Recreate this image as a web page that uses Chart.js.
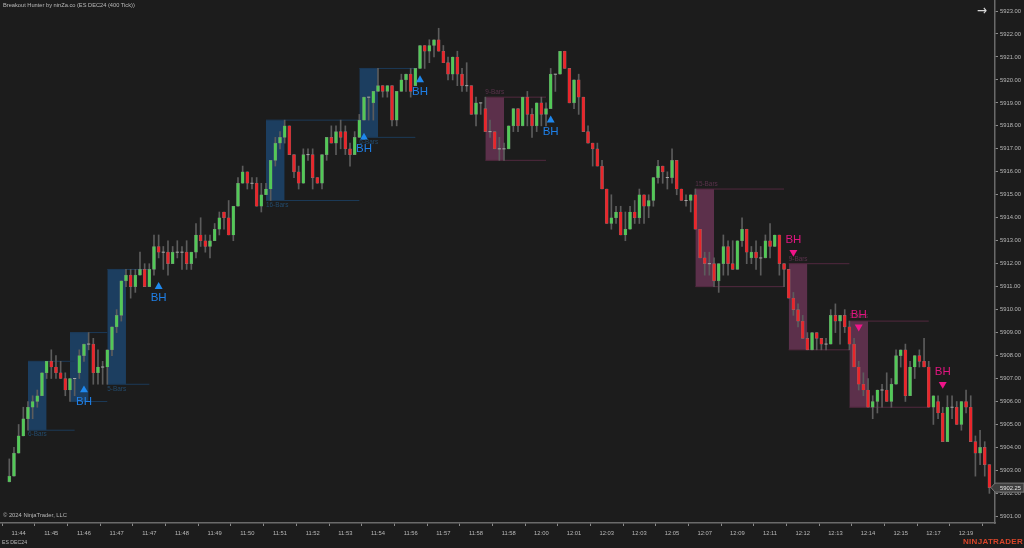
<!DOCTYPE html>
<html>
<head>
<meta charset="utf-8">
<title>Breakout Hunter</title>
<script src="https://cdn.jsdelivr.net/npm/chart.js@4/dist/chart.umd.js"></script>
<style>
    html, body { margin: 0; padding: 0; background: #1c1c1c; overflow: hidden; }
    #wrap { position: relative; width: 1024px; height: 548px; font-family: "Liberation Sans", Arial, sans-serif; }
    #chart { display: block; }
    .lbl { position: absolute; white-space: nowrap; color: #b9b9b9; line-height: 1; }
</style>
</head>
<body>
<div id="wrap">
    <canvas id="chart" width="1024" height="548"></canvas>
    <div class="lbl" style="left:3px;top:3px;font-size:5.7px;">Breakout Hunter by ninZa.co (ES DEC24 (400 Tick))</div>
    <div class="lbl" style="left:977px;top:3px;font-size:14px;color:#d8d8d8;font-family:'DejaVu Sans';transform:scaleX(0.86);transform-origin:left;">→</div>
    <div class="lbl" style="left:3px;top:513px;font-size:5.8px;">© 2024 NinjaTrader, LLC</div>
    <div class="lbl" style="left:2px;top:540px;font-size:5.2px;">ES DEC24</div>
    <div class="lbl" style="left:963px;top:538px;font-size:8px;font-weight:bold;color:#d9452a;letter-spacing:0.3px;">NINJATRADER</div>
</div>
<script>
// Candles, one entry per 400 tick bar
var opens = [
    5902.5, 5902.75, 5903.75, 5904.5, 5905.25, 5905.75, 5906, 5906.25, 5907.25, 5907.75,
    5907.5, 5907.25, 5907, 5906.5, 5907, 5907.25, 5908, 5908.5, 5908.5, 5907.25,
    5907.5, 5907.5, 5908.25, 5909.25, 5909.75, 5911.25, 5911.5, 5911, 5911.5, 5911.75,
    5911, 5911.75, 5912.75, 5912.5, 5912.5, 5912, 5912.5, 5912.5, 5912.5, 5912,
    5912.5, 5913.25, 5913, 5912.75, 5913, 5913.5, 5914.25, 5914, 5913.25, 5914.5,
    5915.5, 5916, 5915.5, 5915.5, 5914.5, 5915, 5915.25, 5916.5, 5917.25, 5917.5,
    5918, 5916.75, 5916, 5915.5, 5916.75, 5916.75, 5915.75, 5915.5, 5916.75, 5917.5,
    5917.25, 5917.75, 5917.75, 5917, 5916.75, 5917.5, 5918.25, 5919.25, 5919, 5919.5,
    5919.75, 5919.5, 5919.75, 5918.25, 5919.5, 5920, 5920.25, 5919.75, 5920.5, 5921.5,
    5921.25, 5921.5, 5921.75, 5921.25, 5920.75, 5920.25, 5921, 5920.25, 5919.75, 5919.75,
    5918.5, 5919, 5918.75, 5917.75, 5917.75, 5917, 5917, 5917, 5918, 5918.75,
    5918, 5919.25, 5918.5, 5918, 5919, 5918.5, 5918.75, 5920.25, 5920.25, 5921.25,
    5920.5, 5919, 5920, 5919.25, 5917.75, 5917.25, 5917, 5916.25, 5915.25, 5913.75,
    5914, 5914.25, 5913.25, 5913.5, 5914.25, 5914, 5915, 5914.5, 5914.75, 5915.75,
    5916.25, 5915.75, 5915.75, 5916.5, 5915.25, 5914.75, 5914.75, 5915, 5913.5, 5912.25,
    5912, 5912, 5911.25, 5912, 5912.75, 5912, 5911.75, 5913, 5913.5, 5912.25,
    5912.5, 5912.25, 5912.25, 5913, 5912.75, 5913.25, 5912, 5911.75, 5910.5, 5910,
    5909.5, 5908.75, 5908.25, 5909, 5908.75, 5908.5, 5908.5, 5909.75, 5909.5, 5909.75,
    5909.25, 5908.5, 5907.5, 5906.75, 5906.5, 5905.75, 5906, 5906.5, 5906.5, 5906,
    5906.75, 5908, 5908.25, 5906.25, 5907.5, 5908, 5907.75, 5907.5, 5905.75, 5906,
    5905.5, 5904.25, 5905.75, 5905.75, 5905, 5906, 5905.75, 5904.25, 5903.75, 5904,
    5903.25
];
var highs = [
    5903.5, 5904, 5905, 5905.75, 5906, 5906.25, 5906.5, 5907.25, 5907.75, 5908.25,
    5908, 5907.75, 5907.25, 5907, 5907, 5908.25, 5908.5, 5909, 5908.75, 5908.25,
    5907.75, 5908.25, 5909.25, 5910, 5911.25, 5911.75, 5911.75, 5911.75, 5912.5, 5912,
    5912, 5913.25, 5913.25, 5912.75, 5913, 5912.75, 5913, 5912.75, 5913, 5912.5,
    5913.75, 5914, 5913.25, 5913.25, 5913.75, 5914.25, 5914.25, 5914.75, 5914.5, 5915.75,
    5916.25, 5916, 5915.75, 5915.75, 5915.5, 5915.5, 5916.5, 5917.5, 5917.75, 5918.25,
    5918, 5916.75, 5916.25, 5917, 5917, 5917, 5915.75, 5916.75, 5917.5, 5918,
    5918, 5918.25, 5918, 5917.25, 5917.75, 5918.5, 5919.25, 5919.25, 5919.5, 5920.5,
    5919.75, 5919.75, 5919.75, 5919.5, 5920.25, 5920.25, 5920.5, 5920.5, 5921.5, 5921.5,
    5921.75, 5921.75, 5922.25, 5921.5, 5921, 5921, 5921.25, 5920.5, 5920.75, 5919.75,
    5919.25, 5919, 5919.25, 5918.25, 5917.75, 5917.5, 5917.25, 5918, 5918.75, 5918.75,
    5919.25, 5919.5, 5918.75, 5919, 5919.25, 5919, 5920.5, 5920.25, 5921.25, 5921.25,
    5920.5, 5920, 5920.25, 5919.25, 5918, 5917.25, 5917.25, 5916.5, 5915.25, 5915,
    5914.5, 5914.5, 5914.25, 5914.5, 5914.75, 5915.25, 5915, 5915, 5915.75, 5916.5,
    5916.25, 5916, 5917, 5916.5, 5915.25, 5915, 5915, 5915.25, 5913.5, 5912.5,
    5912.5, 5912.25, 5912, 5913.25, 5913, 5913, 5913, 5914, 5913.5, 5912.75,
    5913, 5912.75, 5913.25, 5913.75, 5913.25, 5913.25, 5912, 5911.75, 5910.75, 5910.25,
    5909.75, 5909, 5909, 5909, 5908.75, 5908.75, 5910, 5910.25, 5909.75, 5910,
    5909.5, 5908.75, 5907.75, 5907.25, 5907, 5906.25, 5906.5, 5906.75, 5907.25, 5907,
    5908.25, 5908.25, 5908.5, 5907.75, 5908, 5908.25, 5908.75, 5907.75, 5906.25, 5906.25,
    5905.75, 5906.25, 5906.25, 5906, 5906, 5906.5, 5906.25, 5904.5, 5904.75, 5904.25,
    5903.25
];
var lows = [
    5902.5, 5902.75, 5903.75, 5904.5, 5904.75, 5905.25, 5905.75, 5906.25, 5907, 5907,
    5907, 5907, 5906.25, 5906, 5906.25, 5907, 5907.75, 5908.25, 5906.75, 5906.75,
    5906.75, 5906.75, 5908, 5909, 5909.5, 5911, 5910.5, 5910.75, 5911.5, 5911,
    5911, 5911.5, 5912.25, 5911.75, 5911.5, 5912, 5912.25, 5911.75, 5911.75, 5911.75,
    5912.25, 5912.75, 5912.5, 5912.25, 5913, 5913.25, 5913.5, 5913.25, 5913, 5914.5,
    5915.5, 5915.25, 5915.25, 5914.5, 5914.25, 5915, 5914.75, 5916.25, 5917, 5917.25,
    5916.75, 5915.75, 5915.25, 5915.5, 5916.5, 5915.25, 5915.5, 5915.25, 5916.5, 5917.25,
    5916.75, 5917, 5916.75, 5916.25, 5916.75, 5917.5, 5918.25, 5918.25, 5918.25, 5919.5,
    5919.25, 5919.25, 5918, 5918, 5919.5, 5919.5, 5919.25, 5919.75, 5920.5, 5920.5,
    5920.75, 5921, 5921.25, 5920.75, 5920, 5920, 5919.75, 5919.5, 5919.5, 5918.5,
    5918, 5918.5, 5917.75, 5917.5, 5917, 5916.5, 5916.5, 5917, 5917.75, 5917.75,
    5918, 5918, 5917.5, 5917.75, 5918, 5918, 5918.75, 5919.5, 5920.25, 5920.5,
    5919, 5918.75, 5918.5, 5917.75, 5917.25, 5916.25, 5916.25, 5915.25, 5913.75, 5913.5,
    5913.75, 5913.25, 5913, 5913.5, 5913.75, 5913.75, 5913.75, 5914, 5914.5, 5915.5,
    5915.5, 5915.25, 5915.5, 5915, 5914.75, 5914.5, 5914.25, 5913.5, 5912.25, 5911.5,
    5911.5, 5911, 5910.75, 5911.5, 5911.5, 5911.75, 5911.75, 5912.75, 5912, 5912,
    5911.75, 5911.5, 5912.25, 5912.25, 5912.75, 5911.5, 5911, 5910.5, 5909.75, 5909.25,
    5908.75, 5908.25, 5908.25, 5908.25, 5908.25, 5908.25, 5908.5, 5909, 5908.5, 5909,
    5908.25, 5907.5, 5906.5, 5906.25, 5905.75, 5905.25, 5905.5, 5905.75, 5906, 5905.75,
    5906.75, 5907.5, 5906, 5906.25, 5907, 5907.5, 5907.5, 5905.75, 5905, 5905.25,
    5904.25, 5904.25, 5905.25, 5905, 5904.75, 5905.5, 5904.25, 5902.75, 5903.25, 5902.75,
    5902
];
var closes = [
    5902.75, 5903.75, 5904.5, 5905.25, 5905.75, 5906, 5906.25, 5907.25, 5907.75, 5907.5,
    5907.25, 5907, 5906.5, 5907, 5907, 5908, 5908.5, 5908.5, 5907.25, 5907.5,
    5907.5, 5908.25, 5909.25, 5909.75, 5911.25, 5911.5, 5911, 5911.5, 5911.75, 5911,
    5911.75, 5912.75, 5912.5, 5912.5, 5912, 5912.5, 5912.5, 5912.5, 5912, 5912.5,
    5913.25, 5913, 5912.75, 5913, 5913.5, 5914, 5914, 5913.25, 5914.5, 5915.5,
    5916, 5915.5, 5915.5, 5914.5, 5915, 5915.25, 5916.5, 5917.25, 5917.5, 5918,
    5916.75, 5916, 5915.5, 5916.75, 5916.75, 5915.75, 5915.5, 5916.75, 5917.5, 5917.25,
    5917.75, 5917.5, 5917, 5916.75, 5917.5, 5918.25, 5919.25, 5919.25, 5919.5, 5919.75,
    5919.5, 5919.75, 5918.25, 5919.5, 5920, 5920.25, 5919.5, 5920.5, 5921.5, 5921.25,
    5921.5, 5921.75, 5921.25, 5920.75, 5920.25, 5921, 5920.25, 5919.75, 5919.75, 5918.5,
    5919, 5919, 5917.75, 5917.75, 5917, 5917, 5917, 5918, 5918.75, 5918,
    5919.25, 5918.5, 5918, 5919, 5918.5, 5918.75, 5920.25, 5920.25, 5921.25, 5920.5,
    5919, 5920, 5919.25, 5917.75, 5917.25, 5917, 5916.25, 5915.25, 5913.75, 5914,
    5914.25, 5913.25, 5913.5, 5914.25, 5914, 5915, 5914.5, 5914.75, 5915.75, 5916.25,
    5916, 5915.75, 5916.5, 5915.25, 5914.75, 5914.75, 5915, 5913.5, 5912.25, 5912,
    5912, 5911.25, 5912, 5912.75, 5912, 5911.75, 5913, 5913.5, 5912.5, 5912.5,
    5912.25, 5912.25, 5913, 5912.75, 5913.25, 5912, 5911.75, 5910.5, 5910, 5909.5,
    5908.75, 5908.25, 5909, 5908.75, 5908.5, 5908.5, 5909.75, 5909.5, 5909.75, 5909.25,
    5908.5, 5907.5, 5906.75, 5906.5, 5905.75, 5906, 5906.5, 5906.5, 5906, 5906.75,
    5908, 5908.25, 5906.25, 5907.5, 5908, 5907.75, 5907.5, 5905.75, 5906.25, 5905.5,
    5904.25, 5905.75, 5905.75, 5905, 5906, 5905.75, 5904.25, 5903.75, 5904, 5903.25,
    5902.25
];

// One tick on the time axis every 7 bars, starting at bar 2
var timeLabels = ["11:44", "11:45", "11:46", "11:47", "11:47", "11:48", "11:49", "11:50", "11:51", "11:52",
    "11:53", "11:54", "11:56", "11:57", "11:58", "11:58", "12:00", "12:01", "12:03", "12:03",
    "12:05", "12:07", "12:09", "12:11", "12:12", "12:13", "12:14", "12:15", "12:17", "12:19"];
var lastPrice = 5902.25;

// Breakout zones (bar numbers and prices)
var zoneStart = [4, 13, 21, 55, 75, 102, 147, 167, 180];
var zoneEnd = [8, 17, 25, 59, 79, 106, 151, 171, 184];
var zoneLineEnd = [14, 21, 30, 75, 87, 115, 166, 180, 197];
var zoneTop = [5907.75, 5909, 5911.75, 5918.25, 5920.5, 5919.25, 5915.25, 5912, 5909.5];
var zoneBottom = [5904.75, 5906, 5906.75, 5914.75, 5917.5, 5916.5, 5911, 5908.25, 5905.75];
var zoneUp = [true, true, true, true, true, false, false, false, false];
var zoneNames = ["6-Bars", "", "5-Bars", "16-Bars", "6-Bars", "9-Bars", "15-Bars", "9-Bars", "9-Bars"];

// BH signals
var buyBars = [16, 32, 76, 88, 116];
var buyPrices = [5906.5, 5911, 5917.5, 5920, 5918.25];
var sellBars = [168, 182, 200];
var sellPrices = [5912.5, 5909.25, 5906.75];

var GREEN = "#52c957", RED = "#e8262b", WICK = "#5c5c5c", EDGE = "#787878";
var BLUE_ZONE = "#1c3e60", PINK_ZONE = "#5c304b";
var BLUE_LINE = "#1c3a58", PINK_LINE = "#52293f";
var BLUE_MARK = "#1e88ee", PINK_MARK = "#f0148a";

var datasets = [];

// Zones go at the back, the candles are drawn over them
for (var z = 0; z < zoneStart.length; z++) {
    datasets.push({
        type: "line", order: 30, pointRadius: 0, borderWidth: 0,
        backgroundColor: zoneUp[z] ? BLUE_ZONE : PINK_ZONE,
        fill: { target: { value: zoneBottom[z] } },
        data: [{ x: zoneStart[z], y: zoneTop[z] }, { x: zoneEnd[z], y: zoneTop[z] }]
    });
    [zoneTop[z], zoneBottom[z]].forEach(function(level) {
        datasets.push({
            type: "line", order: 20, pointRadius: 0, borderWidth: 1,
            borderColor: zoneUp[z] ? BLUE_LINE : PINK_LINE,
            data: [{ x: zoneStart[z], y: level }, { x: zoneLineEnd[z], y: level }]
        });
    });
}

// Wicks and bodies as floating bars
datasets.push({
    type: "bar", order: 10, grouped: false, barThickness: 1, backgroundColor: WICK,
    data: highs.map(function(h, i) { return { x: i, y: [lows[i], h] }; })
});
var bodies = closes.map(function(c, i) { return { x: i, y: [opens[i], c] }; }).filter(function(d) { return d.y[0] !== d.y[1]; });
datasets.push({
    type: "bar", order: 9, grouped: false, barThickness: 3, borderWidth: 0.4, borderColor: EDGE, borderSkipped: false,
    backgroundColor: bodies.map(function(d) { return d.y[1] > d.y[0] ? GREEN : RED; }),
    data: bodies
});
datasets.push({
    type: "scatter", order: 8, pointStyle: "line", pointRadius: 1.6, borderWidth: 1, borderColor: "#a8a8a8",
    data: closes.map(function(c, i) { return { x: i, y: c }; }).filter(function(d) { return d.y === opens[d.x]; })
});

// BH triangles
datasets.push({
    type: "scatter", order: 1, pointStyle: "triangle", pointRadius: 4.6, pointBorderWidth: 0, backgroundColor: BLUE_MARK,
    data: buyBars.map(function(b, i) { return { x: b, y: buyPrices[i] }; })
});
datasets.push({
    type: "scatter", order: 1, pointStyle: "triangle", pointRadius: 4.6, pointRotation: 180, pointBorderWidth: 0, backgroundColor: PINK_MARK,
    data: sellBars.map(function(b, i) { return { x: b, y: sellPrices[i] }; })
});

// Zone names, BH texts and the current price tag
var annotations = {
    id: "annotations",
    afterDatasetsDraw: function(chart) {
        var ctx = chart.ctx, xs = chart.scales.x, ys = chart.scales.y;
        ctx.save();
        ctx.textBaseline = "middle";
        ctx.textAlign = "left";
        ctx.font = '6.4px "Liberation Sans"';
        zoneNames.forEach(function(name, z) {
            var y = zoneUp[z] ? ys.getPixelForValue(zoneBottom[z]) + 4.5 : ys.getPixelForValue(zoneTop[z]) - 4.5;
            ctx.fillStyle = zoneUp[z] ? "#234a6b" : "#59324b";
            ctx.fillText(name, xs.getPixelForValue(zoneStart[z]), y);
        });
        ctx.textAlign = "center";
        ctx.font = '11.5px "Liberation Sans"';
        ctx.fillStyle = "#1f7fe6";
        buyBars.forEach(function(b, i) {
            ctx.fillText("BH", xs.getPixelForValue(b), ys.getPixelForValue(buyPrices[i]) + 11.5);
        });
        ctx.fillStyle = "#e0157f";
        sellBars.forEach(function(b, i) {
            ctx.fillText("BH", xs.getPixelForValue(b), ys.getPixelForValue(sellPrices[i]) - 12.5);
        });

        var py = ys.getPixelForValue(lastPrice);
        ctx.beginPath();
        ctx.moveTo(991, py);
        ctx.lineTo(995, py - 4.5);
        ctx.lineTo(1024, py - 4.5);
        ctx.lineTo(1024, py + 4.5);
        ctx.lineTo(995, py + 4.5);
        ctx.closePath();
        ctx.fillStyle = "#3e3e3e";
        ctx.fill();
        ctx.strokeStyle = "#7a7a7a";
        ctx.lineWidth = 1;
        ctx.stroke();
        ctx.fillStyle = "#e4e4e4";
        ctx.textAlign = "left";
        ctx.font = '5.8px "Liberation Sans"';
        ctx.fillText(lastPrice.toFixed(2), 1000, py + 0.5);
        ctx.restore();
    }
};

new Chart(document.getElementById("chart"), {
    data: { datasets: datasets },
    plugins: [annotations],
    options: {
        responsive: false,
        animation: false,
        devicePixelRatio: 1,
        // the plot goes right to the window edge, the triangles may not push it in
        layout: { padding: 0, autoPadding: false },
        plugins: { legend: { display: false }, tooltip: { enabled: false }, title: { display: false } },
        scales: {
            x: {
                type: "linear",
                offset: false,
                min: -1.993,
                max: 211.2,
                afterFit: function(scale) { scale.height = 25; scale.paddingLeft = 0; scale.paddingRight = 0; },
                afterBuildTicks: function(scale) {
                    scale.ticks = timeLabels.map(function(t, i) { return { value: 2 + 7 * i, label: t }; });
                },
                grid: { drawOnChartArea: false, drawTicks: true, tickLength: 3, tickColor: "#8a8a8a", tickWidth: 1 },
                border: { color: "#6a6a6a", width: 1.5 },
                ticks: {
                    autoSkip: false, maxRotation: 0, minRotation: 0, padding: 4, color: "#b9b9b9",
                    font: { family: "Liberation Sans", size: 5.8 },
                    callback: function(v, i) { return timeLabels[i]; }
                }
            },
            y: {
                position: "right",
                min: 5900.71,
                max: 5923.48,
                afterFit: function(scale) { scale.width = 29; scale.paddingTop = 0; scale.paddingBottom = 0; },
                grid: { drawOnChartArea: false, tickLength: 3, tickColor: "#8a8a8a", tickWidth: 1 },
                border: { color: "#6a6a6a", width: 1.5 },
                ticks: {
                    stepSize: 1, padding: 2, color: "#b9b9b9",
                    font: { family: "Liberation Sans", size: 5.8 },
                    callback: function(v) { return v.toFixed(2); }
                },
                afterBuildTicks: function(scale) {
                    scale.ticks = [];
                    for (var p = 5901; p <= 5923; p++) scale.ticks.push({ value: p });
                }
            }
        }
    }
});
</script>
</body>
</html>
